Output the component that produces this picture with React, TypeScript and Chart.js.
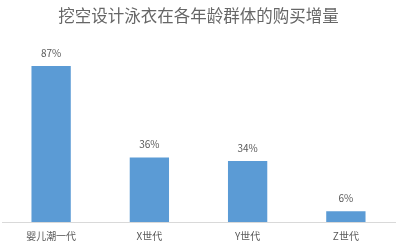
import React, { useEffect, useRef } from "react";
import { Chart, registerables } from "chart.js";

Chart.register(...registerables);

const categories = ["婴儿潮一代", "X世代", "Y世代", "Z世代"];
const increase = [87, 36, 34, 6];
const titleText = "挖空设计泳衣在各年龄群体的购买增量";

const FONT = "'Noto Sans CJK SC', 'Liberation Sans', sans-serif";
const TEXT_COLOR = "#595959";

// Percent labels drawn above each bar
const valueLabels = {
  id: "valueLabels",
  afterDatasetsDraw(chart: any) {
    const { ctx } = chart;
    const meta = chart.getDatasetMeta(0);
    ctx.save();
    ctx.font = `10px ${FONT}`;
    ctx.fillStyle = TEXT_COLOR;
    ctx.textAlign = "center";
    ctx.textBaseline = "middle";
    meta.data.forEach((bar: any, i: number) => {
      ctx.fillText(`${increase[i]}%`, bar.x, bar.y - 13);
    });
    ctx.restore();
  },
};

export default function App() {
  const canvasRef = useRef<HTMLCanvasElement>(null);

  useEffect(() => {
    document.body.style.margin = "0";
    const chart = new Chart(canvasRef.current!, {
      type: "bar",
      data: {
        labels: categories,
        datasets: [
          {
            data: increase,
            backgroundColor: "#5b9bd5",
            barPercentage: 0.8,
            categoryPercentage: 0.5,
          },
        ],
      },
      options: {
        animation: false,
        responsive: false,
        maintainAspectRatio: false,
        layout: { padding: { left: 2, right: 5, top: 0, bottom: -7 } },
        plugins: {
          legend: { display: false },
          tooltip: { enabled: false },
          title: {
            display: true,
            text: titleText,
            color: "#666666",
            font: { family: FONT, size: 16.5, weight: "normal" },
            padding: { top: 6, bottom: 17 },
          },
        },
        scales: {
          x: {
            grid: { display: false, drawTicks: false },
            border: { display: true, color: "#d9d9d9", width: 1 },
            ticks: {
              color: TEXT_COLOR,
              font: { family: FONT, size: 10 },
              padding: 8,
            },
          },
          y: {
            display: false,
            min: 0,
            max: 100,
          },
        },
      },
      plugins: [valueLabels],
    });
    return () => chart.destroy();
  }, []);

  return (
    <div style={{ width: 400, height: 243 }}>
      <canvas ref={canvasRef} width={400} height={243} />
    </div>
  );
}
